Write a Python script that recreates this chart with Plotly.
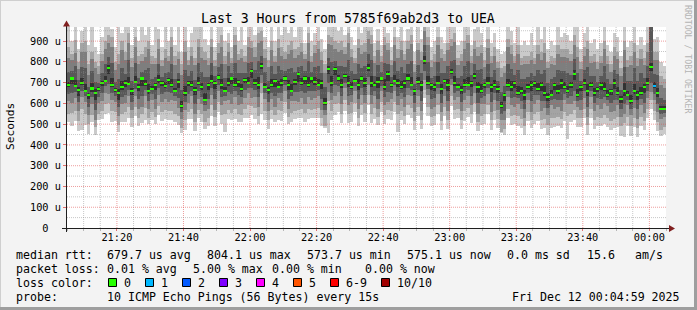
import plotly.graph_objects as go
import pandas as pd

# ---------------- data (values in microseconds) ----------------
# median RTT per step (1 min)
med = [690,720,685,665,700,660,640,672,650,668, 700,710,770,690,665,648,680,700,692,658,
       705,680,720,695,660,670,690,712,700,685, 715,690,660,705,588,650,700,690,665,700,
       680,617,690,710,700,725,690,660,700,720, 690,705,670,715,700,756,700,690,780,680,
       665,690,710,680,700,720,690,660,705,740, 700,720,690,720,705,690,700,602,766,700,
       766,720,690,730,700,680,710,690,720,700, 770,700,690,705,720,680,740,690,710,700,
       680,700,720,690,660,705,690,804,700,690, 680,700,670,710,690,751,700,680,665,690,
       690,700,730,680,660,690,700,680,690,670, 588,640,690,680,700,650,660,640,680,690,
       700,670,690,650,630,640,690,660,700,680, 660,690,742,640,680,700,660,690,650,670,
       690,670,640,660,700,650,620,660,640,610, 660,640,650,680,700,775,684,650,574,575]

# sorted pings (smoke): p1 lowest ... p10 highest
p1 = [510,490,515,465,472,495,455,512,450,518, 525,550,555,510,515,463,510,510,532,488,
      540,490,505,520,500,520,500,542,515,525, 520,520,510,495,457,470,525,525,465,530,
      510,477,490,540,490,560,500,462,525,520, 525,510,510,530,530,546,525,500,550,520,
      475,525,510,520,515,555,500,510,525,530, 530,510,525,530,530,530,490,480,458,520,
      546,560,505,565,505,510,560,490,545,510, 590,505,525,495,560,500,525,520,560,462,
      520,500,545,530,470,540,475,624,540,490, 495,550,470,540,475,586,525,530,475,515,
      535,505,560,465,495,500,550,470,520,480, 458,450,530,495,500,490,480,448,515,480,
      500,515,475,480,450,480,485,490,480,515, 430,510,522,485,485,530,450,530,475,490,
      490,500,485,470,480,485,445,440,490,445, 485,440,490,470,530,575,519,465,444,455]
p2 = [550,555,565,515,575,550,500,542,485,548, 565,595,600,565,560,498,550,560,582,528,
      585,530,550,580,530,560,535,587,560,570, 565,565,550,540,483,520,560,575,510,570,
      550,512,530,590,535,605,545,550,570,555, 575,550,545,575,590,586,580,540,650,565,
      520,570,545,570,565,605,535,555,565,570, 575,555,575,570,575,580,530,492,611,565,
      596,600,550,615,550,555,600,530,590,555, 640,550,580,535,605,545,570,565,605,550,
      565,540,590,580,515,585,520,664,585,535, 540,590,515,585,520,636,570,575,520,565,
      580,550,600,510,540,550,590,520,565,525, 463,475,575,540,545,540,525,490,560,520,
      550,560,520,525,495,530,530,535,525,560, 540,550,567,530,530,575,495,575,520,535,
      530,545,530,515,525,535,490,505,535,490, 530,480,535,515,575,615,564,510,474,485]
p3 = [610,600,625,565,630,605,545,597,520,603, 610,650,645,615,607,538,595,602,637,570,
      637,575,585,635,572,618,575,640,605,623, 605,615,610,577,526,570,602,635,550,622,
      595,565,572,640,570,660,590,610,618,595, 630,593,595,625,648,624,632,585,700,622,
      565,620,585,625,612,658,575,610,613,605, 628,598,632,615,625,638,570,542,654,615,
      638,655,595,672,592,608,658,572,640,600, 690,595,635,575,658,592,605,620,660,590,
      620,582,640,638,558,637,562,714,642,575, 585,645,558,638,562,689,615,630,565,615,
      638,592,650,550,595,595,645,560,618,570, 518,518,632,590,585,598,575,530,618,560,
      595,615,562,578,542,590,572,585,565,615, 595,595,610,585,570,628,535,632,565,590,
      572,600,588,558,565,590,535,548,590,542, 580,525,592,555,628,655,616,560,524,535]
p4 = [645,650,655,605,662,635,585,630,570,633, 648,682,695,650,635,583,632,642,667,608,
      670,620,635,665,612,645,620,672,645,653, 653,650,638,627,558,605,645,662,597,658,
      632,592,620,672,620,690,632,638,655,645, 660,640,630,663,675,674,664,630,735,652,
      607,652,635,652,650,688,622,638,653,655, 660,648,660,660,660,665,620,570,700,652,
      688,685,635,700,638,640,685,620,675,642, 725,640,662,623,685,630,655,652,688,635,
      648,630,675,665,600,667,610,754,670,622, 625,672,602,670,612,716,652,658,605,648,
      665,638,685,600,625,635,672,608,650,612, 548,565,660,628,632,625,612,575,648,610,
      640,642,612,610,580,618,620,618,615,645, 625,635,660,612,615,660,585,660,602,625,
      620,630,615,600,615,618,572,595,618,572, 615,572,620,602,660,700,646,598,548,555]
p5 = [680,695,677,635,688,654,620,657,615,658, 682,704,742,678,656,618,666,678,687,642,
      697,660,686,685,645,664,664,700,682,676, 693,680,655,675,580,636,682,681,640,688,
      665,610,664,698,670,715,670,654,686,692, 681,681,658,697,694,724,690,670,766,672,
      645,678,680,672,684,710,665,654,687,705, 688,692,681,700,691,684,670,592,742,684,
      736,710,672,722,678,668,704,664,706,680, 756,680,682,675,710,664,706,678,704,678,
      670,674,706,682,640,693,660,788,691,666, 662,692,646,698,662,741,685,674,645,678,
      684,678,716,650,650,672,692,654,678,650, 576,610,681,662,676,642,644,618,670,662,
      680,662,662,638,614,634,666,646,670,670, 650,672,712,632,658,688,634,681,634,656,
      666,658,632,640,670,640,604,638,634,598, 646,618,640,652,688,755,672,632,566,569]
p6 = [704,728,715,677,722,695,650,698,668,677, 710,734,786,722,673,668,708,712,728,672,
      731,692,728,715,694,684,700,736,706,703, 723,720,676,717,610,686,709,710,679,728,
      700,651,700,736,708,739,720,678,724,726, 722,715,692,723,728,768,718,726,794,700,
      677,716,718,710,718,730,712,694,719,749, 724,730,726,728,725,718,712,624,782,730,
      776,738,716,742,734,702,718,720,734,724, 790,734,702,729,728,716,754,700,738,716,
      708,712,740,726,670,729,706,826,730,698, 694,730,692,720,716,767,734,692,685,718,
      726,710,748,704,692,698,726,694,712,682, 608,652,720,706,710,684,678,664,692,706,
      708,698,704,686,650,664,700,690,716,702, 686,704,762,670,688,718,694,702,674,680,
      702,702,664,670,718,678,634,696,660,640, 694,660,678,692,724,795,702,676,588,587]
p7 = [750,755,780,713,775,770,680,757,705,698, 745,790,825,795,703,718,772,742,807,708,
      793,722,750,760,770,720,728,792,728,745, 750,790,718,747,663,762,732,758,715,795,
      750,725,728,795,730,777,788,722,780,748, 795,745,748,747,795,801,760,802,830,750,
      707,778,740,780,762,758,765,770,753,775, 780,756,805,750,773,782,745,677,821,800,
      804,782,778,775,810,755,742,788,772,780, 840,808,732,785,750,795,790,728,802,755,
      775,745,788,802,695,785,745,879,800,722, 730,798,745,748,778,806,810,722,733,782,
      802,735,792,760,765,720,788,728,762,710, 656,682,790,765,736,760,720,718,725,745,
      732,762,740,762,698,720,728,760,755,755, 745,738,812,745,710,762,775,730,732,705,
      730,778,720,695,762,742,665,775,708,710, 770,710,745,722,780,990,744,738,624,615]
p8 = [820,810,845,765,850,850,735,812,770,743, 805,860,890,870,760,788,855,810,892,773,
      870,790,805,825,860,790,790,862,780,820, 805,870,785,815,738,850,785,830,785,870,
      820,807,785,870,780,845,870,790,850,795, 880,810,820,800,870,866,825,890,900,820,
      775,855,800,865,830,815,840,855,820,835, 850,815,890,800,845,860,810,747,886,880,
      861,850,855,840,890,825,795,865,840,850, 910,885,795,855,800,880,855,785,880,820,
      855,810,860,885,750,855,810,949,880,775, 800,880,820,805,855,876,895,785,805,860,
      890,795,860,830,845,775,865,795,830,770, 728,745,870,840,795,840,785,790,790,810,
      790,840,810,845,770,790,785,840,825,825, 820,805,882,825,765,830,860,795,800,765,
      795,860,790,750,830,815,730,855,775,785, 850,780,815,785,850,990,809,810,689,675]
p9 = [870,840,905,800,890,900,790,850,800,780, 840,900,930,920,800,840,900,850,940,820,
      920,830,840,870,900,830,820,910,810,860, 830,920,830,850,790,900,810,870,820,910,
      870,850,820,910,810,890,930,830,890,820, 930,840,860,830,920,900,870,940,950,860,
      810,900,830,910,870,850,880,900,860,870, 890,840,940,830,880,900,850,790,930,920,
      900,890,900,870,940,860,820,910,880,890, 950,930,830,900,830,920,890,810,920,860,
      900,840,900,930,790,890,850,990,920,810, 840,920,860,840,890,910,940,820,840,900,
      930,830,900,870,880,810,910,830,870,800, 770,780,910,880,830,880,820,830,830,850,
      820,880,850,890,800,830,820,880,860,860, 860,840,930,870,800,870,900,830,840,800,
      830,900,830,790,870,850,770,900,810,830, 890,820,860,820,890,990,850,850,730,720]
p10 = [1000,900,1000,860,950,1000,880,1000,870,840, 920,1000,1000,960,870,1000,940,1000,1000,880,
       1000,900,1000,930,1000,880,1000,960,870,1000, 900,1000,880,1000,850,1000,870,940,1000,1000,
       1000,910,880,1000,870,1000,1000,900,940,870, 1000,900,1000,880,1000,1000,930,1000,1000,920,
       870,1000,900,1000,930,1000,940,1000,920,1000, 1000,890,1000,900,940,1000,910,860,1000,1000,
       1000,950,1000,930,1000,920,880,1000,940,1000, 1000,1000,890,960,880,1000,940,870,1000,920,
       1000,900,960,1000,850,1000,910,1050,1000,870, 900,1000,920,890,1000,1000,1000,880,900,1000,
       1000,880,960,1000,940,870,1000,890,940,860, 840,850,1000,950,890,1000,880,900,880,940,
       880,1000,910,1000,860,900,880,1000,920,940, 930,900,1000,1000,860,940,1000,890,910,860,
       890,1000,880,850,940,920,830,1000,870,900, 1000,880,920,880,1000,1000,910,920,800,780]
# lost pings per step
loss = [0] * 176 + [1] + [0] * 3

y_tickvals = [0, 100, 200, 300, 400, 500, 600, 700, 800, 900]
y_ticktext = ["\u00a0\u00a00\u00a0\u00a0", "100 u", "200 u", "300 u", "400 u",
              "500 u", "600 u", "700 u", "800 u", "900 u"]

title_text = "Last 3 Hours from 5785f69ab2d3 to UEA"
y_title = "Seconds"
rtt_legend = ["median rtt:", "679.7 us avg", "804.1 us max", "573.7 us min",
              "575.1 us now", "0.0 ms sd", "15.6", "am/s"]
loss_legend = ["packet loss:", "0.01 % avg", "5.00 % max", "0.00 % min", "0.00 % now"]
color_legend_label = "loss color:"
loss_keys = ["0", "1", "2", "3", "4", "5", "6-9", "10/10"]
loss_key_colors = ["#26ff00", "#00b8ff", "#0059ff", "#7e00ff", "#ff00ff",
                   "#ff5500", "#ff0000", "#a10000"]
probe_legend = ["probe:", "10 ICMP Echo Pings (56 Bytes) every 15s"]
stamp = "Fri Dec 12 00:04:59 2025"
watermark = "RRDTOOL / TOBI OETIKER"

# ---------------- geometry ----------------
W_FIG, H_FIG = 697, 310
L, T, PW, PH = 67, 27, 599, 201
FONT = "DejaVu Sans Mono"


def px(xp):
    return (xp - L) / PW


def py(yp):
    return (T + PH - yp) / PH


start, end = "2025-12-11 21:05:00", "2025-12-12 00:05:00"
times = pd.date_range("2025-12-11 21:05:30", periods=len(med), freq="60s")

fig = go.Figure()
band_colors = ["#cacaca", "#a4a4a4", "#7e7e7e", "#585858", "#323232"]
pairs = [(p1, p10), (p2, p9), (p3, p8), (p4, p7), (p5, p6)]
for (lo, hi), c in zip(pairs, band_colors):
    fig.add_trace(go.Bar(x=times, base=lo, y=[h - l for h, l in zip(hi, lo)],
                         width=60000, marker=dict(color=c, line=dict(width=0)),
                         hoverinfo="skip", showlegend=False))

loss_color_map = {0: "#26ff00", 1: "#00b8ff", 2: "#0059ff", 3: "#7e00ff",
                  4: "#ff00ff", 5: "#ff5500"}
fig.add_trace(go.Bar(x=times, base=[m - 5 for m in med], y=[10] * len(med),
                     width=60000,
                     marker=dict(color=[loss_color_map[v] for v in loss], line=dict(width=0)),
                     hoverinfo="skip", showlegend=False))

shapes = []
MAJ = "rgba(222,79,79,0.55)"
MIN = "rgba(143,143,143,0.5)"
# vertical grid
for t in pd.date_range(start, end, freq="5min")[1:-1]:
    major = (t.minute % 20 == 0)
    shapes.append(dict(type="line", xref="x", yref="paper", x0=t, x1=t, y0=0, y1=1,
                       line=dict(color=MAJ if major else MIN, width=1, dash="1px,1px"),
                       layer="above"))
# horizontal grid
for v in range(50, 968, 50):
    major = (v % 100 == 0)
    shapes.append(dict(type="line", xref="paper", yref="y", x0=0, x1=1, y0=v, y1=v,
                       line=dict(color=MAJ if major else MIN, width=1, dash="1px,1px"),
                       layer="above"))
AX = "#1f1f1f"
ARROW = "#801f1f"
# axes lines
shapes.append(dict(type="line", xref="paper", yref="paper", x0=px(62), x1=px(671),
                   y0=py(228.5), y1=py(228.5), line=dict(color=AX, width=1), layer="above"))
shapes.append(dict(type="line", xref="paper", yref="paper", x0=px(66.5), x1=px(66.5),
                   y0=py(232), y1=py(24), line=dict(color=AX, width=1), layer="above"))
# arrows
shapes.append(dict(type="path", xref="paper", yref="paper",
                   path=f"M {px(63)} {py(26.5)} L {px(70)} {py(26.5)} L {px(66.5)} {py(20.5)} Z",
                   fillcolor=ARROW, line=dict(width=0), layer="above"))
shapes.append(dict(type="path", xref="paper", yref="paper",
                   path=f"M {px(669)} {py(225)} L {px(669)} {py(232)} L {px(675)} {py(228.5)} Z",
                   fillcolor=ARROW, line=dict(width=0), layer="above"))
# frame
shapes.append(dict(type="line", xref="paper", yref="paper", x0=px(0), x1=px(697),
                   y0=py(0.5), y1=py(0.5), line=dict(color="#cfcfcf", width=1)))
shapes.append(dict(type="line", xref="paper", yref="paper", x0=px(0.5), x1=px(0.5),
                   y0=py(0), y1=py(310), line=dict(color="#cfcfcf", width=1)))
shapes.append(dict(type="line", xref="paper", yref="paper", x0=px(0), x1=px(697),
                   y0=py(308.5), y1=py(308.5), line=dict(color="#9e9e9e", width=3)))
shapes.append(dict(type="line", xref="paper", yref="paper", x0=px(695.5), x1=px(695.5),
                   y0=py(0), y1=py(310), line=dict(color="#9e9e9e", width=3)))

annotations = []


def txt(text, x, y, size=11.6, anchor="left", color="#000", angle=0):
    annotations.append(dict(text=text, x=px(x), y=py(y), xref="paper", yref="paper",
                            xanchor=anchor, yanchor="middle", showarrow=False,
                            textangle=angle, borderpad=0,
                            font=dict(family=FONT, size=size, color=color)))


txt(title_text, 348, 19, size=13.2, anchor="center")
txt(y_title, 11, 127, size=11.2, anchor="center", angle=-90)
txt(watermark, 688, 59, size=8.2, anchor="center", color="#b4b4b4", angle=90)

rtt_x = [16, 107, 207, 307, 407, 507, 587, 635]
for s, x in zip(rtt_legend, rtt_x):
    txt(s, x - 1, 254.5)
loss_x = [16, 107, 193, 272, 365]
for s, x in zip(loss_legend, loss_x):
    txt(s, x - 1, 268.5)
txt(color_legend_label, 15, 282.5)
box_x = [108.5, 145.5, 182.5, 219.5, 256.5, 293.5, 330.5, 381.5]
for k, c, bx in zip(loss_keys, loss_key_colors, box_x):
    shapes.append(dict(type="rect", xref="paper", yref="paper",
                       x0=px(bx), x1=px(bx + 8), y0=py(278.5), y1=py(286.5),
                       fillcolor=c, line=dict(color="#000", width=1)))
    txt(k, bx + 14.5, 282.5)
txt(probe_legend[0], 15, 296.5)
txt(probe_legend[1], 106, 296.5)
txt(stamp, 681, 296.5, anchor="right")

fig.update_layout(
    width=W_FIG, height=H_FIG,
    margin=dict(l=L, r=W_FIG - L - PW, t=T, b=H_FIG - T - PH, pad=0),
    paper_bgcolor="#f3f3f3", plot_bgcolor="#ffffff",
    barmode="overlay", bargap=0, showlegend=False,
    font=dict(family=FONT, color="#000"),
    shapes=shapes, annotations=annotations,
)
fig.update_xaxes(type="date", range=[start, end], tickformat="%H:%M",
                 tick0="2025-12-11 21:20:00", dtick=1200000,
                 showgrid=False, zeroline=False, showline=False,
                 ticks="outside", ticklen=2, tickcolor="rgba(222,79,79,0.8)",
                 ticklabelstandoff=-2,
                 tickfont=dict(family=FONT, size=10.3, color="#000"),
                 minor=dict(dtick=300000, tick0=start, ticks="outside", ticklen=2,
                            tickcolor="rgba(143,143,143,0.6)", showgrid=False),
                 fixedrange=True)
fig.update_yaxes(range=[0, 968], tickmode="array", tickvals=y_tickvals, ticktext=y_ticktext,
                 showgrid=False, zeroline=False, showline=False,
                 ticks="outside", ticklen=3, tickcolor="rgba(222,79,79,0.8)",
                 tickfont=dict(family=FONT, size=10.3, color="#000"),
                 fixedrange=True)

fig.write_html("out.html")
